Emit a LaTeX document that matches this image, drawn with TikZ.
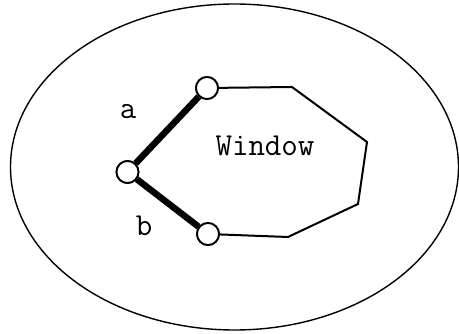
\documentclass[tikz,border=0pt]{standalone}
\begin{document}
\begin{tikzpicture}[x=1pt,y=-1pt,
  joint/.style={circle,draw,fill=white,line width=1.8pt,minimum size=22pt,inner sep=0pt},
  thin/.style={line width=2pt,line join=miter},
  arm/.style={line width=6.5pt},
  lbl/.style={font=\ttfamily\fontsize{32}{32}\selectfont,inner sep=0pt}]
\useasboundingbox (0,0) rectangle (459,334);
\draw[line width=1.4pt] (234.5,167) ellipse [x radius=224, y radius=163];
\coordinate (p1) at (292,87);
\coordinate (p2) at (367,142);
\coordinate (p3) at (358,204);
\coordinate (p4) at (288,237);
\node[joint] (T) at (207,88) {};
\node[joint] (L) at (127.5,172) {};
\node[joint] (B) at (208,234) {};
\draw[thin] (T) -- (p1) -- (p2) -- (p3) -- (p4) -- (B);
\draw[arm] (L) -- (T);
\draw[arm] (L) -- (B);
\node[joint] at (T) {};
\node[joint] at (L) {};
\node[joint] at (B) {};
\node[lbl] (w) at (265,146) {Window};
\node[lbl] (a) at (128,112) {a};
\node[lbl] (b) at (144,226) {b};
\end{tikzpicture}
\end{document}
